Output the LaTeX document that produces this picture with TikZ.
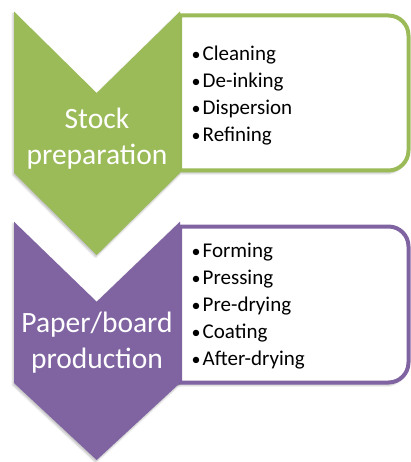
\documentclass[tikz,border=0pt]{standalone}
\usepackage{fontspec}
\setmainfont{Carlito}
\usepackage{tikz}
\usetikzlibrary{positioning, shadows.blur}

\definecolor{stockgreen}{HTML}{9BBB59}
\definecolor{boardpurple}{HTML}{8064A2}
\newcommand{\stepbullet}{\makebox[11pt][l]{\raisebox{0.9pt}{\fontsize{18}{18}\selectfont\textbullet}}}

\begin{document}
\begin{tikzpicture}[x=1pt, y=1pt,
        chevron/.style={fill=#1, blur shadow={shadow xshift=-1pt, shadow yshift=-2pt, shadow opacity=25}},
        listbox/.style={draw=#1, line width=4pt, fill=white, blur shadow={shadow xshift=-2pt, shadow yshift=-3pt, shadow opacity=25}},
        stage/.style={text=white, align=center, inner sep=0pt, font=\fontsize{29.5}{36}\selectfont},
        steps/.style={anchor=west, align=left, inner sep=0pt, font=\fontsize{21}{27}\selectfont}]
        \useasboundingbox (0,0) rectangle (411,-462);

        % stock preparation
        \draw[listbox=stockgreen] (180,-15.5) [rounded corners=20pt] -- (408.5,-15.5) -- (408.5,-170.5) [sharp corners] -- (180,-170.5) -- cycle;
        \fill[chevron=stockgreen] (14,-11.5) -- (96.7,-93) -- (180,-11.5) -- (180,-173) -- (96.7,-255) -- (14,-173) -- cycle;
        \node[stage] (stock) at (97,-139) {Stock\\preparation};
        \node[steps] (stocksteps) at (191.5,-96) {\stepbullet Cleaning\\\stepbullet De-inking\\\stepbullet Dispersion\\\stepbullet Refining};

        % paper/board production
        \draw[listbox=boardpurple] (180,-226.5) [rounded corners=20pt] -- (408.5,-226.5) -- (408.5,-382.5) [sharp corners] -- (180,-382.5) -- cycle;
        \fill[chevron=boardpurple] (14,-221.7) -- (96.7,-301.7) -- (180,-221.7) -- (180,-383) -- (96.7,-460) -- (14,-383) -- cycle;
        \node[stage] (board) at (97,-343) {Paper/board\\production};
        \node[steps] (boardsteps) at (191.5,-306.5) {\stepbullet Forming\\\stepbullet Pressing\\\stepbullet Pre-drying\\\stepbullet Coating\\\stepbullet After-drying};
\end{tikzpicture}
\end{document}
